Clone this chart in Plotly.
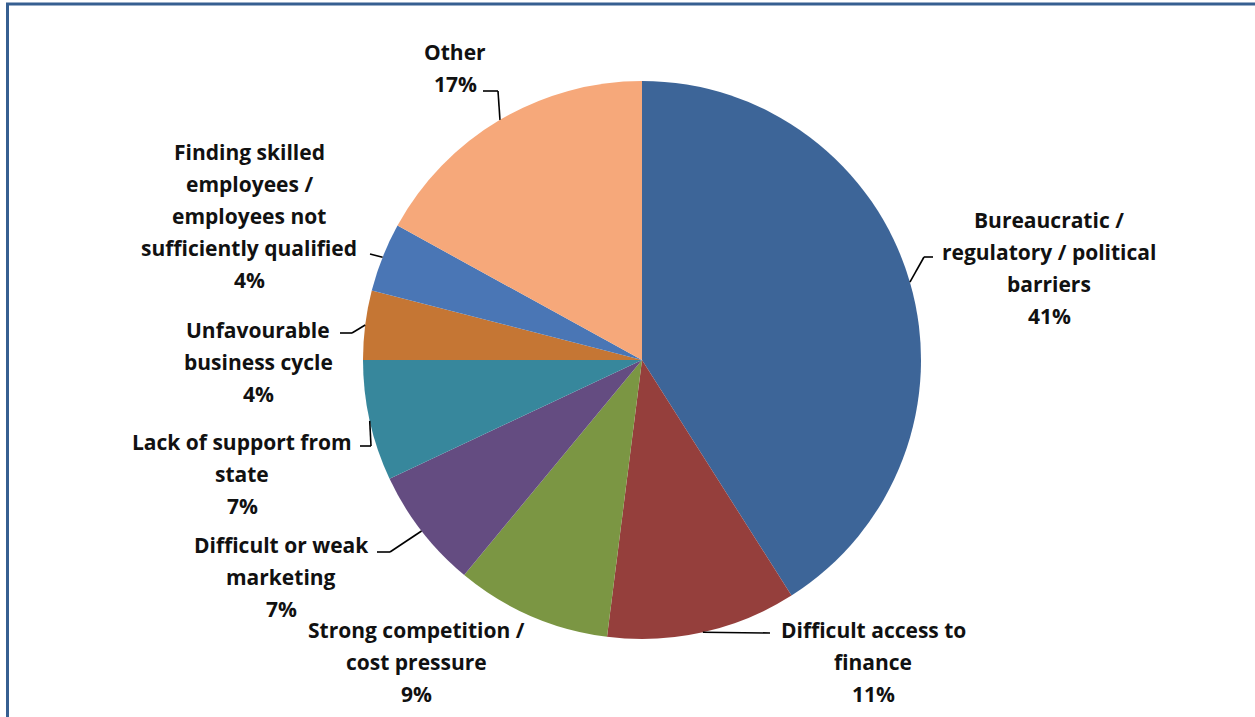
import math
import plotly.graph_objects as go

# Obstacles to business growth (share of responses, %)
categories = [
    "Bureaucratic /\nregulatory / political\nbarriers",
    "Difficult access to\nfinance",
    "Strong competition /\ncost pressure",
    "Difficult or weak\nmarketing",
    "Lack of support from\nstate",
    "Unfavourable\nbusiness cycle",
    "Finding skilled\nemployees /\nemployees not\nsufficiently qualified",
    "Other",
]
shares = [41, 11, 9, 7, 7, 4, 4, 17]

colors = ["#3D6598", "#953F3C", "#7B9643", "#644C81",
          "#37879C", "#C57634", "#4A76B5", "#F6A87A"]

W, H = 1255, 717
CX, CY, R = 642, 360, 279          # pie centre and radius in pixels
LINE_GAP = 32                      # spacing between label lines
FONT = dict(family="Open Sans, Arial, sans-serif", size=21, color="#111111")

# label block: (centre x, y of first line, leader start, leader knee or None)
label_layout = [
    (1049, 220, (933, 257), (924, 257)),
    (873, 630, (770, 633), None),
    (416, 630, None, None),
    (281, 545, (377, 552), (390, 552)),
    (242, 442, (360, 446), (371, 446)),
    (258, 330, (340, 333), (352, 333)),
    (249, 152, (370, 254), None),
    (455, 52, (483, 91), (498, 91)),
]


def px(x):
    return x / W


def py(y):
    return 1 - y / H


fig = go.Figure(go.Pie(
    labels=[c.replace("\n", " ") for c in categories],
    values=shares,
    sort=False,
    direction="clockwise",
    rotation=0,
    textinfo="none",
    marker=dict(colors=colors, line=dict(width=0)),
    domain=dict(x=[px(CX - R), px(CX + R)], y=[py(CY + R), py(CY - R)]),
    showlegend=False,
))

annotations = []
shapes = []
total = sum(shares)
cum = 0
for cat, val, (lx, ly, start, knee) in zip(categories, shares, label_layout):
    mid = (cum + val / 2) / total * 2 * math.pi
    cum += val
    lines = cat.split("\n") + [f"{val}%"]
    for i, t in enumerate(lines):
        annotations.append(dict(
            x=px(lx), y=py(ly + i * LINE_GAP), xref="paper", yref="paper",
            text=f"<b>{t}</b>", showarrow=False, font=FONT,
            xanchor="center", yanchor="middle",
        ))
    if start is None:
        continue
    ex = CX + R * math.sin(mid)
    ey = CY - R * math.cos(mid)
    pts = [start] + ([knee] if knee else []) + [(ex, ey)]
    for (x0, y0), (x1, y1) in zip(pts[:-1], pts[1:]):
        shapes.append(dict(type="line", xref="paper", yref="paper",
                           x0=px(x0), y0=py(y0), x1=px(x1), y1=py(y1),
                           line=dict(color="black", width=1.6)))

# outer frame (open on the right and bottom)
shapes.append(dict(type="rect", xref="paper", yref="paper",
                   x0=px(7.5), y0=-0.05, x1=1.05, y1=py(4),
                   line=dict(color="#365F91", width=3)))

fig.update_layout(
    width=W, height=H,
    margin=dict(l=0, r=0, t=0, b=0),
    paper_bgcolor="white", plot_bgcolor="white",
    annotations=annotations, shapes=shapes,
)

fig.write_html("out.html")
